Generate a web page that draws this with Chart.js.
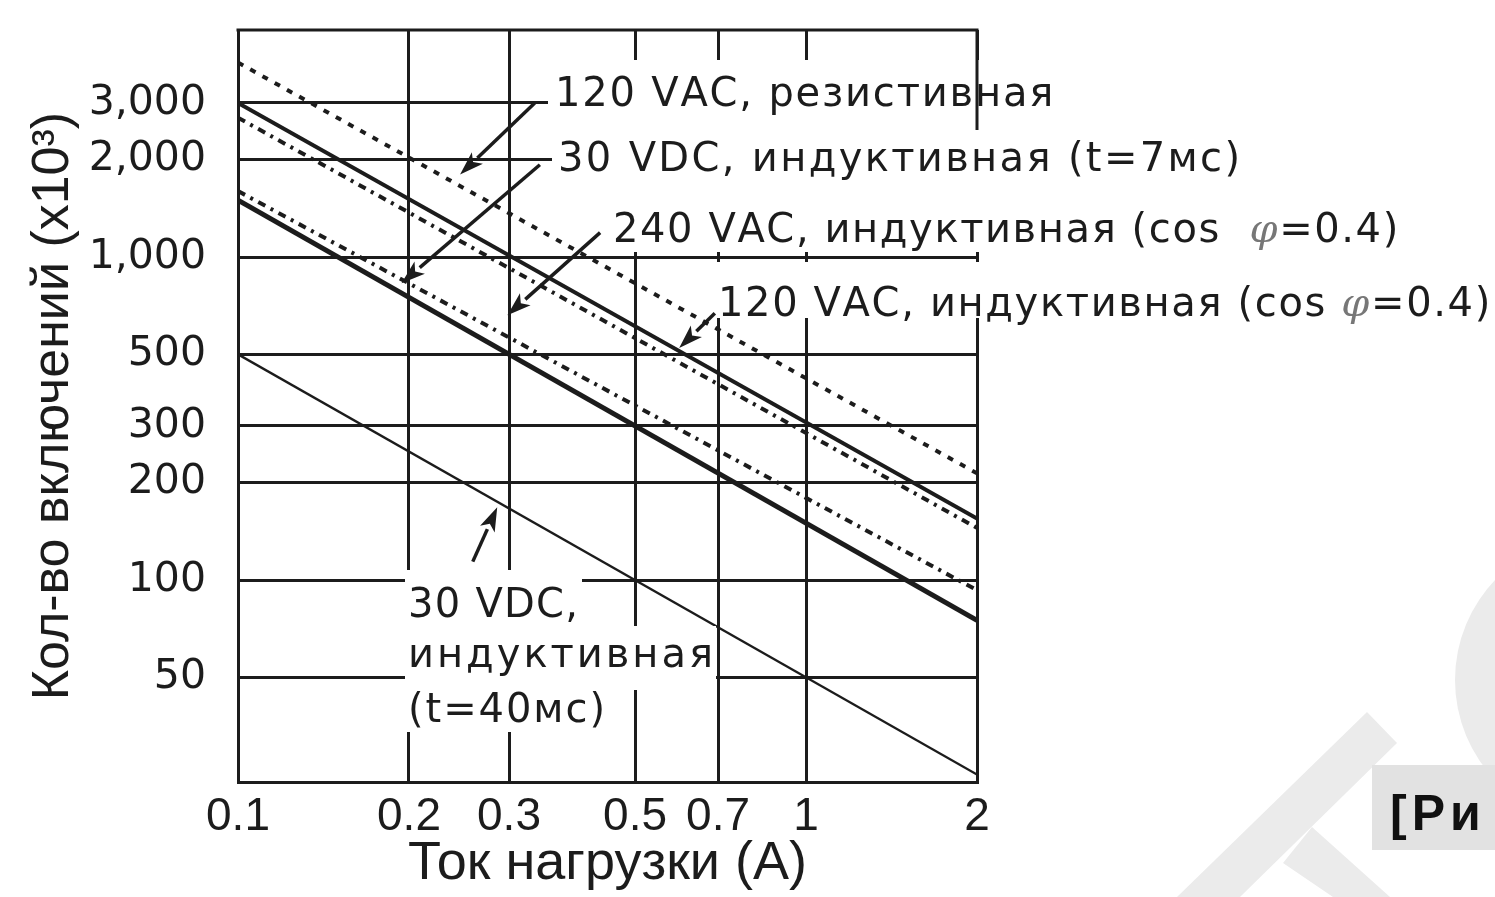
<!DOCTYPE html>
<html>
<head>
<meta charset="utf-8">
<script src="https://cdn.jsdelivr.net/npm/chart.js@4/dist/chart.umd.min.js"></script>
<style>
  html, body { margin: 0; padding: 0; background: #fff; }
  #wrap { width: 1495px; height: 897px; }
</style>
</head>
<body>
<div id="wrap"><canvas id="chart" width="1495" height="897"></canvas></div>
<script>
// load current, A (x axis, log)
const loadCurrent = [0.1, 2];
const xTicks = [0.1, 0.2, 0.3, 0.5, 0.7, 1, 2];
const xTickLabels = ['0.1', '0.2', '0.3', '0.5', '0.7', '1', '2'];

// number of operations, x10^3 (y axis, log)
const yTicks = [50, 100, 200, 300, 500, 1000, 2000, 3000];
const yTickLabels = ['50', '100', '200', '300', '500', '1,000', '2,000', '3,000'];

// life curves, values at 0.1 A and 2 A
const vac120Resistive = [4000, 214];
const vac120Inductive = [3000, 155];
const curveC = [2700, 145];
const vac240Inductive = [1600, 93];
const curveE = [1500, 75];
const vdc30Inductive40 = [500, 25];

const toPoints = (vals) => loadCurrent.map((x, i) => ({ x, y: vals[i] }));

const INK = '#1c1c1c';
const FONT = '"Liberation Sans", Arial, sans-serif';
const WIDE = '"DejaVu Sans", sans-serif';

// arrows: tail -> tip, in data units
const arrows = [
  { from: [0.333, 3000], to: [0.246, 1800] },
  { from: [0.34, 1930], to: [0.194, 830] },
  { from: [0.434, 1190], to: [0.298, 660] },
  { from: [0.691, 670], to: [0.598, 523] },
  { from: [0.259, 114], to: [0.286, 168] }
];

// callout texts (pixel layout)
const callouts = [
  { parts: [{ t: '120 VAC, резистивная' }], x: 555, base: 106, w: 495, box: [548, 60, 1058, 124] },
  { parts: [{ t: '30 VDC, индуктивная (t=7мс)' }], x: 558, base: 171, w: 682, box: [552, 124, 1246, 190] },
  { parts: [{ t: '240 VAC, индуктивная (cos  ' }, { t: 'φ', italic: true, color: '#777' }, { t: '=0.4)' }], x: 613, base: 242, w: 782, box: [607, 190, 1402, 252] },
  { parts: [{ t: '120 VAC, индуктивная (cos ' }, { t: 'φ', italic: true, color: '#777' }, { t: '=0.4)' }], x: 718, base: 316, w: 769, box: [712, 262, 1495, 318] },
  { parts: [{ t: '30 VDC,' }], x: 408, base: 617, w: 170, box: [405, 570, 582, 626] },
  { parts: [{ t: 'индуктивная' }], x: 408, base: 667, w: 305, box: [405, 626, 716, 690] },
  { parts: [{ t: '(t=40мс)' }], x: 408, base: 722, w: 197, box: [405, 690, 610, 732] }
];

function drawFitted(ctx, c, size) {
  const fontOf = (p) => (p.italic ? 'italic ' : '') + size + 'px ' + (p.italic ? '"DejaVu Serif", serif' : WIDE);
  let natural = 0, chars = 0;
  c.parts.forEach(p => {
    ctx.font = fontOf(p);
    natural += ctx.measureText(p.t).width;
    chars += [...p.t].length;
  });
  const ls = (c.w - natural) / Math.max(chars - 1, 1);
  let x = c.x;
  ctx.textBaseline = 'alphabetic';
  ctx.textAlign = 'left';
  c.parts.forEach(p => {
    ctx.font = fontOf(p);
    ctx.fillStyle = p.color || INK;
    for (const ch of p.t) {
      ctx.fillText(ch, x, c.base);
      x += ctx.measureText(ch).width + ls;
    }
  });
}

function drawArrow(ctx, x1, y1, x2, y2) {
  const ang = Math.atan2(y2 - y1, x2 - x1);
  const len = 24, half = 8;
  const bx = x2 - len * Math.cos(ang), by = y2 - len * Math.sin(ang);
  ctx.strokeStyle = INK;
  ctx.lineWidth = 3.5;
  ctx.beginPath();
  ctx.moveTo(x1, y1);
  ctx.lineTo(bx, by);
  ctx.stroke();
  ctx.fillStyle = INK;
  ctx.beginPath();
  ctx.moveTo(x2, y2);
  ctx.lineTo(bx + half * Math.sin(ang), by - half * Math.cos(ang));
  ctx.lineTo(bx + 6 * Math.cos(ang), by + 6 * Math.sin(ang));
  ctx.lineTo(bx - half * Math.sin(ang), by + half * Math.cos(ang));
  ctx.closePath();
  ctx.fill();
}

const annotations = {
  id: 'annotations',
  beforeDraw(chart) {
    // faint watermark in the lower right corner
    const ctx = chart.ctx;
    ctx.save();
    ctx.fillStyle = '#ebebeb';
    ctx.beginPath();
    ctx.arc(1600, 680, 145, 0, Math.PI * 2);
    ctx.fill();
    ctx.beginPath();
    ctx.moveTo(1367, 712); ctx.lineTo(1397, 743); ctx.lineTo(1240, 897); ctx.lineTo(1177, 897);
    ctx.closePath(); ctx.fill();
    ctx.beginPath();
    ctx.moveTo(1312, 827); ctx.lineTo(1390, 897); ctx.lineTo(1333, 897); ctx.lineTo(1283, 863);
    ctx.closePath(); ctx.fill();
    ctx.fillStyle = '#e2e2e2';
    ctx.fillRect(1372, 765, 123, 85);
    ctx.fillStyle = '#111';
    ctx.font = 'bold 50px ' + FONT;
    ctx.textBaseline = 'alphabetic';
    if ('letterSpacing' in ctx) ctx.letterSpacing = '5px';
    ctx.fillText('[Ри', 1390, 830);
    ctx.restore();
  },
  beforeDatasetsDraw(chart) {
    const { ctx, chartArea: a } = chart;
    ctx.save();
    ctx.strokeStyle = INK;
    ctx.lineWidth = 3;
    ctx.beginPath();
    ctx.moveTo(a.left - 1.5, a.top);
    ctx.lineTo(a.right + 1.5, a.top);
    ctx.stroke();
    ctx.restore();
  },
  afterDatasetsDraw(chart) {
    const { ctx, chartArea: area, scales: { x, y } } = chart;
    ctx.save();
    ctx.fillStyle = '#fff';
    callouts.forEach(c => {
      const [l, t, r, b] = c.box;
      ctx.fillRect(l, t, r - l, b - t);
    });
    // right frame edge shows through the first callout
    ctx.strokeStyle = INK;
    ctx.lineWidth = 3;
    ctx.beginPath();
    ctx.moveTo(area.right, area.top);
    ctx.lineTo(area.right, area.top + 100);
    ctx.stroke();
    callouts.forEach(c => drawFitted(ctx, c, 40));
    arrows.forEach(a => {
      drawArrow(ctx,
        x.getPixelForValue(a.from[0]), y.getPixelForValue(a.from[1]),
        x.getPixelForValue(a.to[0]), y.getPixelForValue(a.to[1]));
    });
    ctx.restore();
  }
};

const line = (label, vals, width, dash) => ({
  label,
  data: toPoints(vals),
  borderColor: INK,
  borderWidth: width,
  borderDash: dash,
  borderCapStyle: 'butt',
  pointRadius: 0,
  fill: false,
  tension: 0
});

new Chart(document.getElementById('chart').getContext('2d'), {
  type: 'line',
  data: {
    datasets: [
      line('120 VAC, резистивная', vac120Resistive, 4, [6, 8]),
      line('120 VAC, индуктивная (cos φ=0.4)', vac120Inductive, 4, []),
      line('curve C', curveC, 4, [8, 6, 3, 6]),
      line('30 VDC, индуктивная (t=7мс)', vac240Inductive, 4, [8, 6, 3, 6]),
      line('curve E', curveE, 5, []),
      line('30 VDC, индуктивная (t=40мс)', vdc30Inductive40, 2.4, [])
    ]
  },
  options: {
    responsive: false,
    animation: false,
    devicePixelRatio: 1,
    layout: { padding: { left: 0, right: 518, top: 30, bottom: 0 } },
    plugins: {
      legend: { display: false },
      tooltip: { enabled: false }
    },
    scales: {
      x: {
        type: 'logarithmic',
        min: 0.1,
        max: 2,
        afterBuildTicks: (scale) => { scale.ticks = xTicks.map(v => ({ value: v })); },
        afterFit: (scale) => {
          scale.height = 115;
          scale.paddingLeft = 0;
          scale.paddingRight = 0;
        },
        ticks: {
          autoSkip: false,
          maxRotation: 0,
          padding: 8,
          color: INK,
          font: { family: FONT, size: 46 },
          callback: (v) => xTickLabels[xTicks.indexOf(v)]
        },
        grid: { color: INK, lineWidth: 3, drawTicks: false },
        border: { color: INK, width: 3 },
        title: {
          display: true,
          text: 'Ток нагрузки (А)',
          color: INK,
          font: { family: FONT, size: 54 },
          padding: { top: 0, bottom: 0 }
        }
      },
      y: {
        type: 'logarithmic',
        min: 23.7,
        max: 5044,
        afterBuildTicks: (scale) => { scale.ticks = yTicks.map(v => ({ value: v })); },
        afterFit: (scale) => {
          scale.width = 238;
          scale.paddingTop = 0;
          scale.paddingBottom = 0;
        },
        ticks: {
          autoSkip: false,
          padding: 32,
          color: INK,
          font: { family: WIDE, size: 41 },
          callback: (v) => yTickLabels[yTicks.indexOf(v)]
        },
        grid: { color: INK, lineWidth: 3, drawTicks: false },
        border: { color: INK, width: 3 },
        title: {
          display: true,
          text: 'Кол-во включений (x10³)',
          color: INK,
          font: { family: FONT, size: 52 },
          padding: { top: 22, bottom: 0 }
        }
      }
    }
  },
  plugins: [annotations]
});
</script>
</body>
</html>
